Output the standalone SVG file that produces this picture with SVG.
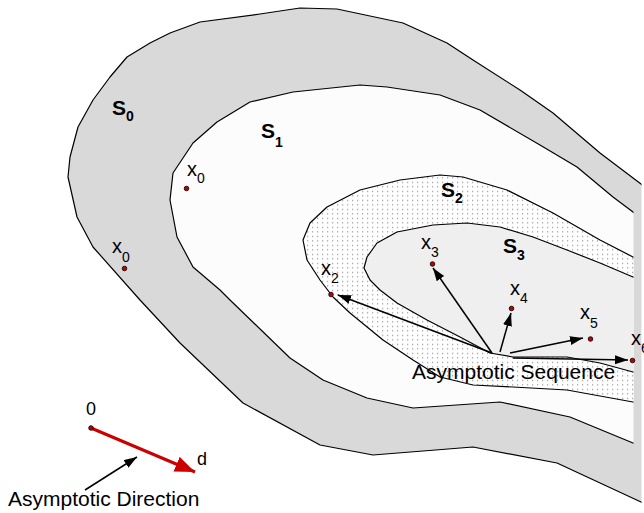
<svg xmlns="http://www.w3.org/2000/svg" width="644" height="513" viewBox="0 0 644 513">
<style>
.bd{stroke:#000;stroke-width:1.2;stroke-linejoin:round}
.lbl{font-family:"Liberation Sans",Arial,sans-serif;fill:#000}
.S{font-size:21px;font-weight:bold}
.Ssub{font-size:14px;font-weight:bold}
.x{font-size:20px}
.xsub{font-size:14px}
.txt{font-size:21px}
.dot{fill:#c00000;stroke:#000;stroke-width:0.8}
.arr{stroke:#000;stroke-width:1.5;fill:none}
</style>
<defs>
<clipPath id="c0"><rect x="0" y="0" width="641.5" height="513"/></clipPath>
<clipPath id="c1"><rect x="0" y="0" width="633.5" height="513"/></clipPath>
<pattern id="dots" width="5" height="4.5" patternUnits="userSpaceOnUse">
<rect width="5" height="4.5" fill="#fefefe"/>
<rect x="2" y="1.75" width="1.2" height="1.2" fill="#999"/>
</pattern>
<marker id="ah" markerUnits="userSpaceOnUse" markerWidth="14" markerHeight="10" refX="13" refY="4.5" orient="auto">
<path d="M0,0 L13,4.5 L0,9 z" fill="#000"/>
</marker>
<marker id="ahr" markerUnits="userSpaceOnUse" markerWidth="22" markerHeight="18" refX="20" refY="8" orient="auto">
<path d="M0,0 L20,8 L0,16 z" fill="#cc0000"/>
</marker>
</defs>
<rect width="644" height="513" fill="#fff"/>
<g id="regions">
<g id="S0" clip-path="url(#c0)">
<path class="bd" fill="#d9d9d9" d="M140,300 L93,247 L77,217 L68,177 L70,157 L78,127 L93,100 L110,77 L127,57 L150,43 L170,33 L200,22 L260,14 L300,8 L337,9 L403,23 L447,43 L473,60 L520,90 L553,113 L600,153 L641,184 L660,198 L660,512 L641,502 L557,463 L473,447 L373,455 L320,445 L243,403 L180,343 Z"/>
</g>
<g id="S1" clip-path="url(#c1)">
<path class="bd" fill="#fcfcfc" d="M220,290 L193,267 L177,237 L170,200 L173,173 L193,143 L217,122 L250,102 L293,92 L360,85 L387,87 L440,95 L480,110 L540,145 L577,167 L613,197 L633,212 L650,225 L650,450 L633,443 L570,417 L500,402 L413,408 L367,398 L323,380 L290,358 L230,300 Z"/>
</g>
<g id="S2" clip-path="url(#c1)">
<path class="bd" fill="url(#dots)" d="M650,266 L633,257 L600,240 L553,213 L507,190 L463,177 L440,175 L400,180 L360,190 L327,207 L310,223 L303,240 L307,260 L320,280 L333,297 L350,313 L383,340 L413,360 L440,377 L473,385 L513,387 L567,390 L633,402 L650,406 Z"/>
</g>
<g id="S3" clip-path="url(#c1)">
<path class="bd" fill="#efefef" d="M650,284 L633,277 L600,263 L567,250 L533,237 L500,227 L467,223 L433,225 L397,232 L377,243 L367,257 L364,268 L370,280 L380,290 L397,303 L427,320 L460,337 L490,353 L513,357 L567,357 L600,363 L633,372 L650,376 Z"/>
</g>
<text class="lbl S" x="112" y="115">S<tspan class="Ssub" dy="6">0</tspan></text>
<text class="lbl S" x="261" y="138">S<tspan class="Ssub" dy="9">1</tspan></text>
<text class="lbl S" x="441" y="197">S<tspan class="Ssub" dy="6">2</tspan></text>
<text class="lbl S" x="503" y="253">S<tspan class="Ssub" dy="7">3</tspan></text>
</g>
<g id="connectors">
<line class="arr" x1="492" y1="353" x2="338" y2="295" marker-end="url(#ah)"/>
<line class="arr" x1="492" y1="353" x2="433" y2="268" marker-end="url(#ah)"/>
<line class="arr" x1="500" y1="352" x2="511" y2="313" marker-end="url(#ah)"/>
<line class="arr" x1="510" y1="353" x2="583" y2="338" marker-end="url(#ah)"/>
<line class="arr" x1="513" y1="358" x2="628" y2="360" marker-end="url(#ah)"/>
<line x1="91" y1="428" x2="195" y2="472" stroke="#cc0000" stroke-width="3" marker-end="url(#ahr)"/>
<line class="arr" x1="85" y1="490" x2="137" y2="457" marker-end="url(#ah)"/>
</g>
<g id="points">
<g id="p-x0a"><circle class="dot" cx="124.5" cy="268.5" r="2.3"/><text class="lbl x" x="112" y="253">x<tspan class="xsub" dy="9">0</tspan></text></g>
<g id="p-x0b"><circle class="dot" cx="186.5" cy="188.5" r="2.3"/><text class="lbl x" x="187" y="176">x<tspan class="xsub" dy="7">0</tspan></text></g>
<g id="p-x2"><circle class="dot" cx="331" cy="294.5" r="2.3"/><text class="lbl x" x="321" y="275">x<tspan class="xsub" dy="8">2</tspan></text></g>
<g id="p-x3"><circle class="dot" cx="432.5" cy="264" r="2.3"/><text class="lbl x" x="421" y="249">x<tspan class="xsub" dy="8">3</tspan></text></g>
<g id="p-x4"><circle class="dot" cx="511.5" cy="308.5" r="2.3"/><text class="lbl x" x="510" y="295">x<tspan class="xsub" dy="8">4</tspan></text></g>
<g id="p-x5"><circle class="dot" cx="590.5" cy="339" r="2.3"/><text class="lbl x" x="580" y="319">x<tspan class="xsub" dy="9">5</tspan></text></g>
<g id="p-x6"><circle class="dot" cx="632.5" cy="360.5" r="2.3"/><text class="lbl x" x="631" y="345">x<tspan class="xsub" dy="8">6</tspan></text></g>
<g id="p-origin"><circle class="dot" cx="91" cy="428" r="2.3"/><text class="lbl" style="font-size:18px" x="86" y="415">0</text></g>
<text class="lbl" style="font-size:18px" x="197" y="465">d</text>
</g>
<text class="lbl txt" x="412" y="379">Asymptotic Sequence</text>
<text class="lbl txt" x="8" y="506">Asymptotic Direction</text>
</svg>
